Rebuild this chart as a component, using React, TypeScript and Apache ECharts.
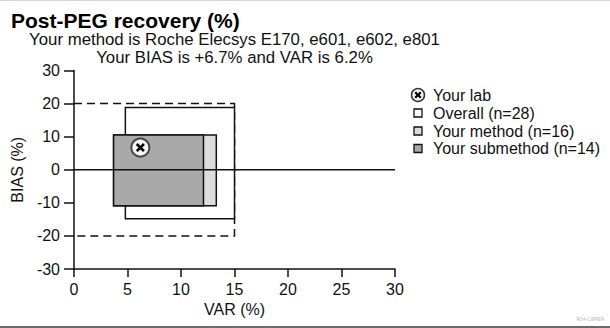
import { useEffect, useRef } from "react";
import * as echarts from "echarts";

// Text content
const titleText = "Post-PEG recovery (%)";
const subtitleLines = [
  "Your method is Roche Elecsys E170, e601, e602, e801",
  "Your BIAS is +6.7% and VAR is 6.2%",
];
const xAxisName = "VAR (%)";
const yAxisName = "BIAS (%)";
const footnote = "R34-C8PER";

// Axis ranges and tick steps
const varRange = [0, 30];
const varStep = 5;
const biasRange = [-30, 30];
const biasStep = 10;

// Group boxes: VAR span (x) and BIAS span (y)
const groupNames = ["Overall (n=28)", "Your method (n=16)", "Your submethod (n=14)"];
const groupFills = ["#ffffff", "#dcdcdc", "#a9a9a9"];
const varLow = [4.8, 3.7, 3.7];
const varHigh = [15.0, 13.3, 12.1];
const biasLow = [-14.8, -10.9, -10.9];
const biasHigh = [18.8, 10.5, 10.5];

// Acceptance limits (dashed frame)
const limitVar = 15;
const limitBias = 20;

// The laboratory's own result
const labName = "Your lab";
const labVar = 6.2;
const labBias = 6.7;

const FONT = '"Liberation Sans", Arial, sans-serif';
const INK = "#111";

export default function App() {
  const ref = useRef<HTMLDivElement>(null);

  useEffect(() => {
    if (!ref.current) return;
    const chart = echarts.init(ref.current, null, { renderer: "svg" });

    const gridLeft = 74;
    const gridTop = 70.5;
    const gridWidth = 321;
    const gridHeight = 198.5;
    const plotCenter = gridLeft + gridWidth / 2;

    const boxData = groupNames.map((name, i) => ({
      name,
      value: [varLow[i], varHigh[i], biasLow[i], biasHigh[i]],
    }));

    const legendX = 418;
    const legendTextX = 433;
    const legendRows = [95, 113, 131, 148.5];

    const legendItems: any[] = [
      {
        type: "group",
        children: [
          {
            type: "circle",
            shape: { cx: legendX, cy: legendRows[0], r: 6.5 },
            style: { fill: "#f4f4f4", stroke: "#333", lineWidth: 1.5 },
          },
          {
            type: "line",
            shape: { x1: legendX - 2.8, y1: legendRows[0] - 2.8, x2: legendX + 2.8, y2: legendRows[0] + 2.8 },
            style: { stroke: "#000", lineWidth: 2.2 },
          },
          {
            type: "line",
            shape: { x1: legendX - 2.8, y1: legendRows[0] + 2.8, x2: legendX + 2.8, y2: legendRows[0] - 2.8 },
            style: { stroke: "#000", lineWidth: 2.2 },
          },
          {
            type: "text",
            x: legendTextX,
            y: legendRows[0],
            style: { text: labName, font: `16px ${FONT}`, fill: INK, verticalAlign: "middle", align: "left" },
          },
        ],
      },
      ...groupNames.map((name, i) => ({
        type: "group",
        children: [
          {
            type: "rect",
            shape: { x: legendX - 4, y: legendRows[i + 1] - 4, width: 8, height: 8 },
            style: { fill: groupFills[i], stroke: "#111", lineWidth: 1.3 },
          },
          {
            type: "text",
            x: legendTextX,
            y: legendRows[i + 1],
            style: { text: name, font: `16px ${FONT}`, fill: INK, verticalAlign: "middle", align: "left" },
          },
        ],
      })),
    ];

    chart.setOption({
      animation: false,
      backgroundColor: "#ffffff",
      textStyle: { fontFamily: FONT },
      grid: { left: gridLeft, top: gridTop, width: gridWidth, height: gridHeight, containLabel: false },
      xAxis: {
        type: "value",
        min: varRange[0],
        max: varRange[1],
        interval: varStep,
        name: xAxisName,
        nameLocation: "middle",
        nameGap: 29,
        nameTextStyle: { fontSize: 16, color: INK, fontFamily: FONT },
        axisLine: { onZero: false, lineStyle: { color: INK, width: 1.5 } },
        axisTick: { show: true, inside: false, length: 8, lineStyle: { color: INK, width: 1.5 } },
        axisLabel: { fontSize: 16, color: INK, fontFamily: FONT, margin: 12 },
        splitLine: { show: false },
      },
      yAxis: {
        type: "value",
        min: biasRange[0],
        max: biasRange[1],
        interval: biasStep,
        name: yAxisName,
        nameLocation: "middle",
        nameGap: 46,
        nameTextStyle: { fontSize: 16, color: INK, fontFamily: FONT },
        axisLine: { onZero: false, lineStyle: { color: INK, width: 1.5 } },
        axisTick: { show: true, inside: false, length: 10, lineStyle: { color: INK, width: 1.5 } },
        axisLabel: { fontSize: 16, color: INK, fontFamily: FONT, margin: 14 },
        splitLine: { show: false },
      },
      graphic: [
        {
          type: "text",
          x: 11,
          y: 20.5,
          style: { text: titleText, font: `bold 21px ${FONT}`, fill: "#000", verticalAlign: "middle", align: "left" },
        },
        {
          type: "text",
          x: plotCenter,
          y: 39.5,
          style: { text: subtitleLines[0], font: `16.8px ${FONT}`, fill: INK, verticalAlign: "middle", align: "center" },
        },
        {
          type: "text",
          x: plotCenter,
          y: 57,
          style: { text: subtitleLines[1], font: `16.8px ${FONT}`, fill: INK, verticalAlign: "middle", align: "center" },
        },
        ...legendItems,
        {
          type: "text",
          x: 604,
          y: 319,
          style: { text: footnote, font: `5px ${FONT}`, fill: "#b4b4c8", verticalAlign: "middle", align: "right" },
        },
        {
          type: "line",
          shape: { x1: 0, y1: 0.5, x2: 610, y2: 0.5 },
          style: { stroke: "#d4d4d4", lineWidth: 1 },
        },
        {
          type: "rect",
          shape: { x: 0, y: 326, width: 610, height: 2 },
          style: { fill: "#6a6a6a" },
        },
      ],
      series: [
        {
          // dashed acceptance frame, open toward the BIAS axis
          type: "custom",
          z: 1,
          silent: true,
          data: [[limitVar, limitBias]],
          encode: { x: 0, y: 1 },
          renderItem: (_params: any, api: any) => {
            const v = api.value(0);
            const b = api.value(1);
            const pts = [
              api.coord([varRange[0], b]),
              api.coord([v, b]),
              api.coord([v, -b]),
              api.coord([varRange[0], -b]),
            ];
            return {
              type: "polyline",
              shape: { points: pts },
              style: { stroke: INK, lineWidth: 1.5, lineDash: [8, 5], fill: "none" },
            };
          },
        },
        {
          // group boxes, drawn in order so the narrowest group is on top
          type: "custom",
          z: 2,
          silent: true,
          data: boxData,
          encode: { x: [0, 1], y: [2, 3] },
          renderItem: (params: any, api: any) => {
            const topLeft = api.coord([api.value(0), api.value(3)]);
            const bottomRight = api.coord([api.value(1), api.value(2)]);
            return {
              type: "rect",
              shape: {
                x: topLeft[0],
                y: topLeft[1],
                width: bottomRight[0] - topLeft[0],
                height: bottomRight[1] - topLeft[1],
              },
              style: { fill: groupFills[params.dataIndex], stroke: INK, lineWidth: 1.5 },
            };
          },
        },
        {
          // zero-bias reference line
          type: "line",
          z: 3,
          silent: true,
          symbol: "none",
          data: [
            [varRange[0], 0],
            [varRange[1], 0],
          ],
          lineStyle: { color: INK, width: 1.5 },
        },
        {
          // the laboratory's own point
          type: "custom",
          z: 4,
          silent: true,
          data: [[labVar, labBias]],
          encode: { x: 0, y: 1 },
          renderItem: (_params: any, api: any) => {
            const [cx, cy] = api.coord([api.value(0), api.value(1)]);
            const arm = 3.6;
            return {
              type: "group",
              children: [
                {
                  type: "circle",
                  shape: { cx, cy, r: 9 },
                  style: { fill: "#f6f6f6", stroke: "#444", lineWidth: 2 },
                },
                {
                  type: "line",
                  shape: { x1: cx - arm, y1: cy - arm, x2: cx + arm, y2: cy + arm },
                  style: { stroke: "#000", lineWidth: 2.6 },
                },
                {
                  type: "line",
                  shape: { x1: cx - arm, y1: cy + arm, x2: cx + arm, y2: cy - arm },
                  style: { stroke: "#000", lineWidth: 2.6 },
                },
              ],
            };
          },
        },
      ],
    });

    return () => chart.dispose();
  }, []);

  return (
    <div
      ref={ref}
      style={{ position: "fixed", left: 0, top: 0, width: 610, height: 328, background: "#fff" }}
    />
  );
}
